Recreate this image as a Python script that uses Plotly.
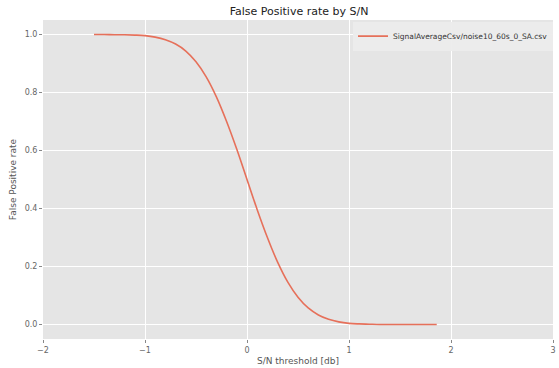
import plotly.graph_objects as go

# S/N threshold values (db) and false positive rate
sn_threshold = [-1.5, -1.4, -1.3, -1.2, -1.1, -1.0, -0.9, -0.8, -0.7, -0.6,
                -0.5, -0.4, -0.3, -0.2, -0.1, 0.0, 0.1, 0.2, 0.3, 0.4,
                0.5, 0.6, 0.7, 0.8, 0.9, 1.0, 1.1, 1.2, 1.3, 1.4,
                1.5, 1.6, 1.7, 1.8, 1.86]
false_positive_rate = [1.000, 1.000, 0.999, 0.999, 0.998, 0.996, 0.991, 0.982, 0.967, 0.943,
                       0.906, 0.854, 0.785, 0.700, 0.604, 0.500, 0.396, 0.300, 0.215, 0.146,
                       0.094, 0.057, 0.033, 0.018, 0.009, 0.004, 0.002, 0.001, 0.000, 0.000,
                       0.000, 0.000, 0.000, 0.000, 0.000]
series_name = "SignalAverageCsv/noise10_60s_0_SA.csv"
x_ticks = [-2, -1, 0, 1, 2, 3]
y_ticks = [0.0, 0.2, 0.4, 0.6, 0.8, 1.0]

fig = go.Figure()
fig.add_trace(go.Scatter(
    x=sn_threshold, y=false_positive_rate, mode="lines", name=series_name,
    line=dict(color="#E6705A", width=1.6, shape="spline"),
))

font_family = "DejaVu Sans"
fig.update_layout(
    width=559, height=368,
    margin=dict(l=43, r=3, t=20, b=26),
    paper_bgcolor="white", plot_bgcolor="#E5E5E5",
    font=dict(family=font_family, size=8, color="#666666"),
    title=dict(text="False Positive rate by S/N", x=0.535, xanchor="center",
               y=0.97, yanchor="middle",
               font=dict(family=font_family, size=11, color="#222222")),
    showlegend=True,
    legend=dict(x=1.0, y=0.995, xanchor="right", yanchor="top",
                bgcolor="rgba(236,236,236,0.95)", borderwidth=0,
                itemwidth=30, tracegroupgap=0,
                font=dict(family=font_family, size=7.5, color="#333333")),
    xaxis=dict(range=[-2, 3], tickvals=x_ticks, showgrid=True, gridcolor="white",
               gridwidth=1, zeroline=False, ticks="outside", ticklen=3,
               tickcolor="#888888", showline=False,
               title=dict(text="S/N threshold [db]", standoff=4,
                          font=dict(size=9, color="#555555"))),
    yaxis=dict(range=[-0.05, 1.05], tickvals=y_ticks, tickformat=".1f", showgrid=True,
               gridcolor="white", gridwidth=1, zeroline=False, ticks="outside",
               ticklen=3, tickcolor="#888888", showline=False,
               title=dict(text="False Positive rate", standoff=6,
                          font=dict(size=9, color="#555555"))),
)

fig.write_html("out.html",
               config={"displayModeBar": False},
               post_script="document.body.style.margin='0';document.body.style.overflow='hidden';")
